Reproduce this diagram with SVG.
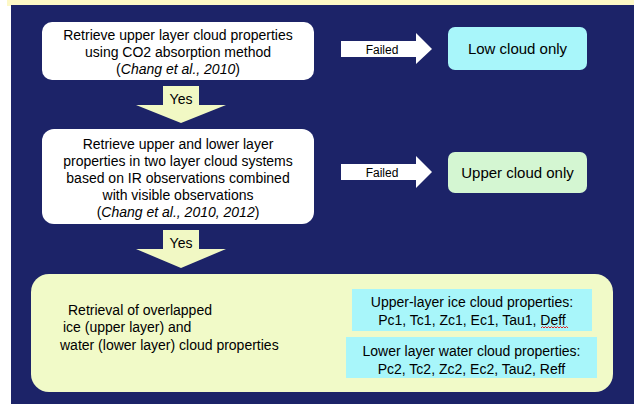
<svg xmlns="http://www.w3.org/2000/svg" width="634" height="410" viewBox="0 0 634 410">
<style>
text{font-family:"Liberation Sans",Arial,sans-serif;font-size:14px;fill:#000}
.c{text-anchor:middle}
.box{fill:#ffffff}
.arr{fill:#ffffff}
.yes{fill:#f1f8c4}
.it{font-style:italic}
.big{font-size:15px}
.sm{font-size:12px}
</style>
<rect x="0" y="0" width="634" height="410" fill="#ffffff"/>
<rect x="7" y="0" width="627" height="6" fill="#fdf8c6"/>
<rect x="11" y="5" width="623" height="399" fill="#1c2368"/>

<g id="connectors">
  <g id="failed1">
    <polygon class="arr" points="341,41 416,41 416,33 432,49 416,64 416,57 341,57"/>
    <text class="c sm" x="382" y="53.5">Failed</text>
  </g>
  <g id="failed2">
    <polygon class="arr" points="341,164 416,164 416,156 432,172 416,188 416,180 341,180"/>
    <text class="c sm" x="382" y="176.5">Failed</text>
  </g>
  <g id="yes1">
    <polygon class="yes" points="163,86 199,86 199,105 226,105 181,123 136,105 163,105"/>
    <text class="c" x="181" y="104">Yes</text>
  </g>
  <g id="yes2">
    <polygon class="yes" points="163,230 199,230 199,249 226,249 181,268 136,249 163,249"/>
    <text class="c" x="181" y="248">Yes</text>
  </g>
</g>

<g id="node-co2">
  <rect class="box" x="42" y="22" width="272" height="58" rx="10"/>
  <text class="c" x="178" y="40">Retrieve upper layer cloud properties</text>
  <text class="c" x="178" y="57">using CO2 absorption method</text>
  <text class="c" x="178" y="74">(<tspan class="it">Chang et al., 2010</tspan>)</text>
</g>

<g id="node-low">
  <rect x="448" y="27" width="139" height="43" rx="7" fill="#a8f6fa"/>
  <text class="c big" x="517.5" y="54">Low cloud only</text>
</g>

<g id="node-ir">
  <rect class="box" x="42" y="129" width="272" height="95" rx="12"/>
  <text class="c" x="178" y="149">Retrieve upper and lower layer</text>
  <text class="c" x="178" y="166">properties in two layer cloud systems</text>
  <text class="c" x="178" y="183">based on IR observations combined</text>
  <text class="c" x="178" y="200">with visible observations</text>
  <text class="c" x="178" y="217">(<tspan class="it">Chang et al., 2010, 2012</tspan>)</text>
</g>

<g id="node-upper">
  <rect x="448" y="152" width="139" height="41" rx="7" fill="#d4f6d2"/>
  <text class="c big" x="517.5" y="177.5">Upper cloud only</text>
</g>

<g id="node-result">
  <rect x="31" y="274" width="582" height="118" rx="18" fill="#f1fac8"/>
  <text x="68" y="315">Retrieval of overlapped</text>
  <text x="63" y="332">ice (upper layer) and</text>
  <text x="60" y="350">water (lower layer) cloud properties</text>
  <g id="node-ice">
    <rect x="352" y="289" width="240" height="42" fill="#a8f6fa"/>
    <text class="c" x="472" y="306.5">Upper-layer ice cloud properties:</text>
    <text class="c" x="472" y="324.5">Pc1, Tc1, Zc1, Ec1, Tau1, Deff</text>
    <path d="M541,328 l1.5,-1.5 l1.5,1.5 l1.5,-1.5 l1.5,1.5 l1.5,-1.5 l1.5,1.5 l1.5,-1.5 l1.5,1.5 l1.5,-1.5 l1.5,1.5 l1.5,-1.5 l1.5,1.5 l1.5,-1.5 l1.5,1.5 l1.5,-1.5 l1.5,1.5 l1.5,-1.5 l1.5,1.5" fill="none" stroke="#e02020" stroke-width="1"/>
  </g>
  <g id="node-water">
    <rect x="346" y="337" width="251" height="41" fill="#a8f6fa"/>
    <text class="c" x="471.5" y="355.5">Lower layer water cloud properties:</text>
    <text class="c" x="471.5" y="373.5">Pc2, Tc2, Zc2, Ec2, Tau2, Reff</text>
  </g>
</g>
</svg>
